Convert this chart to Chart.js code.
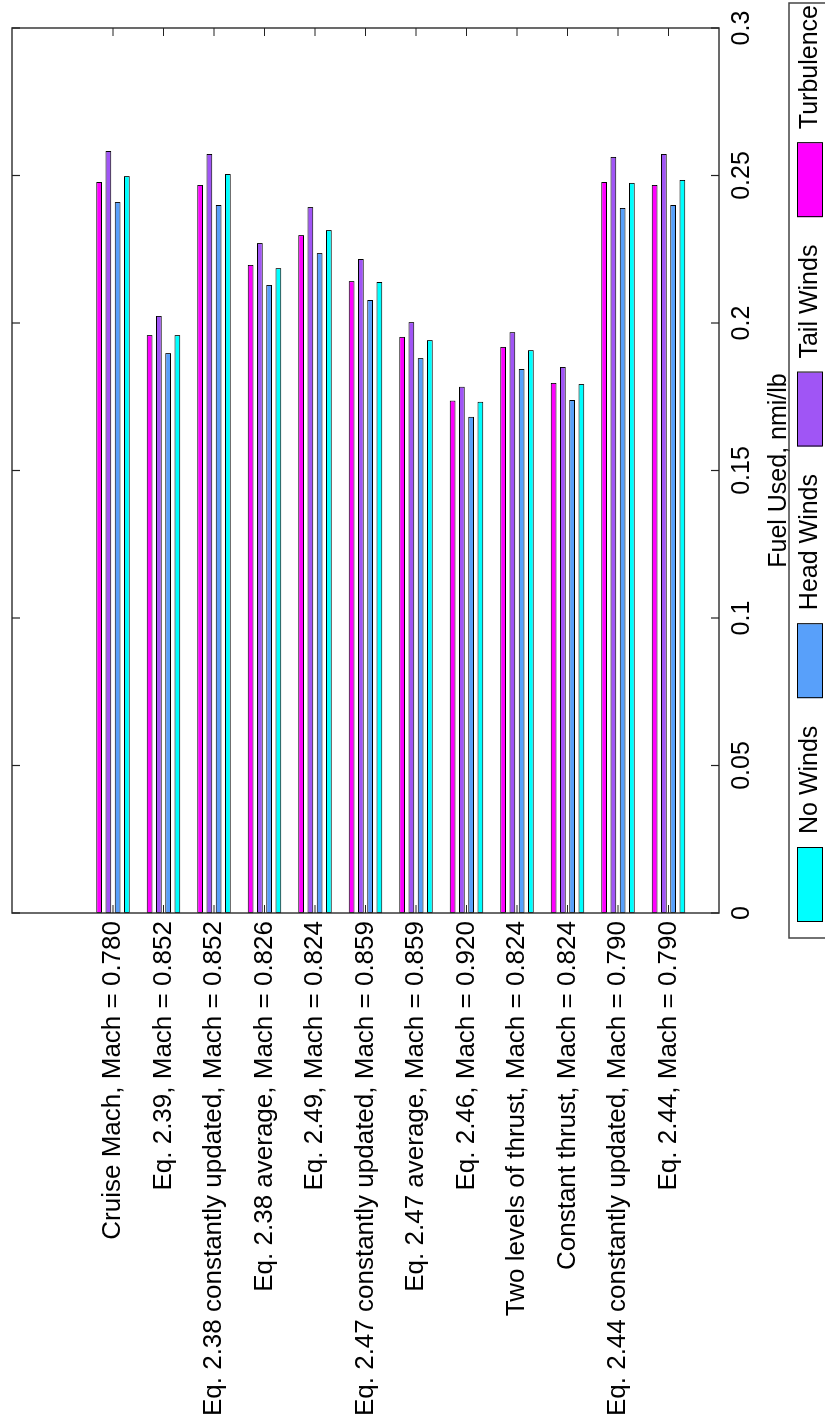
<!DOCTYPE html>
<html>
<head>
<meta charset="utf-8">
<script src="https://cdn.jsdelivr.net/npm/chart.js@4.4.1/dist/chart.umd.min.js"></script>
<style>
  html, body { margin: 0; padding: 0; background: #fff; overflow: hidden; }
  /* chart is drawn landscape, then turned a quarter turn to the left */
  #wrap {
    position: absolute; left: 0; top: 0;
    width: 1427px; height: 825px;
    transform-origin: 0 0;
    transform: translateY(1427px) rotate(-90deg);
  }
</style>
</head>
<body>
<div id="wrap"><canvas id="chart" width="1427" height="825"></canvas></div>
<script>
const categories = [
  'Cruise Mach, Mach = 0.780',
  'Eq. 2.39, Mach = 0.852',
  'Eq. 2.38 constantly updated, Mach = 0.852',
  'Eq. 2.38 average, Mach = 0.826',
  'Eq. 2.49, Mach = 0.824',
  'Eq. 2.47 constantly updated, Mach = 0.859',
  'Eq. 2.47 average, Mach = 0.859',
  'Eq. 2.46, Mach = 0.920',
  'Two levels of thrust, Mach = 0.824',
  'Constant thrust, Mach = 0.824',
  'Eq. 2.44 constantly updated, Mach = 0.790',
  'Eq. 2.44, Mach = 0.790'
];
const noWinds    = [0.2498, 0.1959, 0.2505, 0.2186, 0.2315, 0.2139, 0.1942, 0.1733, 0.1908, 0.1793, 0.2475, 0.2485];
const headWinds  = [0.2410, 0.1898, 0.2400, 0.2129, 0.2237, 0.2078, 0.1881, 0.1682, 0.1844, 0.1739, 0.2390, 0.2400];
const tailWinds  = [0.2583, 0.2024, 0.2573, 0.2271, 0.2393, 0.2217, 0.2003, 0.1784, 0.1969, 0.1851, 0.2563, 0.2573];
const turbulence = [0.2478, 0.1959, 0.2468, 0.2197, 0.2298, 0.2142, 0.1953, 0.1737, 0.1919, 0.1797, 0.2478, 0.2468];
const valueTicks = ['0', '0.05', '0.1', '0.15', '0.2', '0.25', '0.3'];
const axisTitle = 'Fuel Used, nmi/lb';

Chart.defaults.font.family = '"Liberation Sans", Arial, sans-serif';
Chart.defaults.color = '#000';

function series(label, values, color) {
  return {
    label: label,
    data: values.map((v, i) => ({ x: v, y: i + 1 })),
    backgroundColor: color,
    borderColor: '#000',
    borderWidth: 1,
    borderSkipped: false,
    categoryPercentage: 0.73,
    barPercentage: 0.62
  };
}

// box around the plot, inward ticks, and the boxed legend
const frame = {
  id: 'frame',
  afterDraw(chart) {
    const ctx = chart.ctx;
    const a = chart.chartArea;
    const x = chart.scales.x, y = chart.scales.y;
    ctx.save();
    ctx.strokeStyle = '#3a3a3a';
    ctx.lineWidth = 1.5;
    ctx.strokeRect(a.left, a.top, a.right - a.left, a.bottom - a.top);

    ctx.lineWidth = 1.2;
    ctx.strokeStyle = '#222';
    ctx.beginPath();
    valueTicks.forEach(t => {
      const px = x.getPixelForValue(+t);
      ctx.moveTo(px, a.top); ctx.lineTo(px, a.top + 8);
      ctx.moveTo(px, a.bottom); ctx.lineTo(px, a.bottom - 8);
    });
    categories.forEach((c, i) => {
      const py = y.getPixelForValue(i + 1);
      ctx.moveTo(a.left, py); ctx.lineTo(a.left + 8, py);
      ctx.moveTo(a.right, py); ctx.lineTo(a.right - 8, py);
    });
    ctx.stroke();

    // legend, No Winds first
    ctx.lineWidth = 1.5;
    ctx.strokeStyle = '#444';
    ctx.strokeRect(489, 789, 935, 60);
    ctx.font = '25px "Liberation Sans", Arial, sans-serif';
    ctx.textBaseline = 'middle';
    ctx.textAlign = 'left';
    const items = chart.data.datasets.slice().reverse();
    const sw = 74, sg = 14, start = 505, end = 1422;
    const textW = items.reduce((s, ds) => s + ctx.measureText(ds.label).width, 0);
    const gap = (end - start - items.length * (sw + sg) - textW) / (items.length - 1);
    let lx = start;
    items.forEach(ds => {
      ctx.fillStyle = ds.backgroundColor;
      ctx.fillRect(lx, 797, sw, 25);
      ctx.lineWidth = 1;
      ctx.strokeStyle = '#000';
      ctx.strokeRect(lx + 0.5, 797.5, sw, 25);
      lx += sw + sg;
      ctx.fillStyle = '#000';
      ctx.fillText(ds.label, lx, 810);
      lx += ctx.measureText(ds.label).width + gap;
    });
    ctx.restore();
  }
};

new Chart(document.getElementById('chart'), {
  type: 'bar',
  data: {
    datasets: [
      series('Turbulence', turbulence, '#ff00ff'),
      series('Tail Winds', tailWinds, '#a055f5'),
      series('Head Winds', headWinds, '#58a0fa'),
      series('No Winds', noWinds, '#00ffff')
    ]
  },
  options: {
    indexAxis: 'y',
    responsive: false,
    animation: false,
    layout: { padding: { left: 0, right: 28, top: 12, bottom: 0 } },
    plugins: { legend: { display: false }, tooltip: { enabled: false } },
    scales: {
      x: {
        type: 'linear',
        position: 'bottom',
        min: 0,
        max: 0.3,
        offset: false,
        grid: { display: false, drawTicks: false },
        border: { display: false },
        afterBuildTicks: axis => { axis.ticks = valueTicks.map(t => ({ value: +t })); },
        afterFit: scale => { scale.height = 106; },
        ticks: {
          font: { size: 25 },
          padding: 8,
          maxRotation: 0,
          callback: (v, i) => valueTicks[i]
        },
        title: {
          display: true,
          text: axisTitle,
          font: { size: 25 },
          padding: { top: 0, bottom: 31 }
        }
      },
      y: {
        type: 'linear',
        position: 'left',
        reverse: true,
        min: -1,
        max: 13,
        offset: false,
        grid: { display: false, drawTicks: false, offset: false },
        border: { display: false },
        afterBuildTicks: axis => { axis.ticks = categories.map((c, i) => ({ value: i + 1 })); },
        afterFit: scale => { scale.width = 514; scale.paddingTop = 0; scale.paddingBottom = 0; },
        ticks: {
          autoSkip: false,
          font: { size: 26 },
          padding: 8,
          callback: v => categories[v - 1]
        }
      }
    }
  },
  plugins: [frame]
});
</script>
</body>
</html>
